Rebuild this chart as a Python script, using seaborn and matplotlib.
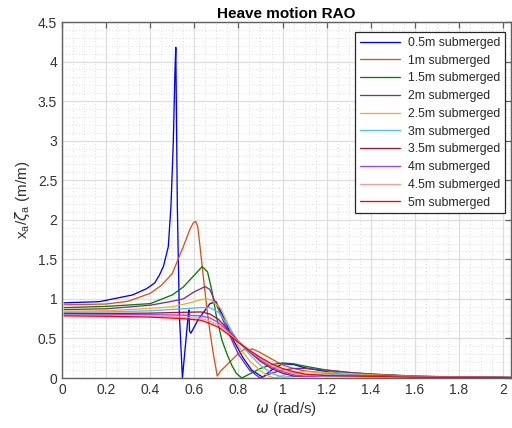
import numpy as np
import pandas as pd
import matplotlib
matplotlib.use("Agg")
import matplotlib.pyplot as plt
import seaborn as sns
from matplotlib.ticker import MultipleLocator

labels = ["0.5m submerged", "1m submerged", "1.5m submerged", "2m submerged",
          "2.5m submerged", "3m submerged", "3.5m submerged", "4m submerged",
          "4.5m submerged", "5m submerged"]
colors = ["#0000FF", "#D95319", "#008000", "#7E2F8E", "#EDB120",
          "#4DBEEE", "#A2142F", "#A040F0", "#FF9A9A", "#FF0000"]

x_ticks = [0, 0.2, 0.4, 0.6, 0.8, 1.0, 1.2, 1.4, 1.6, 1.8, 2.0]
x_ticklabels = ["0", "0.2", "0.4", "0.6", "0.8", "1", "1.2", "1.4", "1.6", "1.8", "2"]
y_ticks = [0, 0.5, 1.0, 1.5, 2.0, 2.5, 3.0, 3.5, 4.0, 4.5]
y_ticklabels = ["0", "0.5", "1", "1.5", "2", "2.5", "3", "3.5", "4", "4.5"]

w_05 = [0.01, 0.17, 0.32, 0.384, 0.42, 0.437, 0.44, 0.46, 0.482, 0.494, 0.505, 0.512,
        0.516, 0.523, 0.532, 0.546, 0.562, 0.573, 0.576, 0.578, 0.584, 0.62, 0.671,
        0.698, 0.724, 0.777, 0.82, 0.86, 0.91, 0.95, 1.0, 1.05, 1.1, 1.2, 1.3, 1.4,
        1.6, 1.8, 2.04]
v_05 = [0.95, 0.965, 1.05, 1.13, 1.2, 1.28, 1.29, 1.41, 1.66, 2.17, 3.0, 3.86,
        4.18, 2.17, 0.82, 0.0, 0.48, 0.82, 0.86, 0.6, 0.565, 0.75, 0.94,
        0.965, 0.82, 0.48, 0.26, 0.1, 0.01, 0.1, 0.18, 0.17, 0.13, 0.08, 0.05, 0.035,
        0.02, 0.012, 0.007]

w_10 = [0.01, 0.2, 0.3, 0.4, 0.45, 0.5, 0.55, 0.58, 0.595, 0.606, 0.615, 0.626, 0.64,
        0.656, 0.67, 0.686, 0.704, 0.72, 0.76, 0.80, 0.822, 0.84, 0.848, 0.86, 0.87,
        0.9, 0.95, 1.0, 1.05, 1.1, 1.2, 1.3, 1.4, 1.6, 1.8, 2.04]
v_10 = [0.925, 0.935, 0.97, 1.07, 1.17, 1.32, 1.66, 1.88, 1.96, 1.98, 1.92, 1.66, 1.3,
        0.9, 0.6, 0.31, 0.025, 0.09, 0.2, 0.31, 0.355, 0.37, 0.34, 0.37, 0.36,
        0.32, 0.24, 0.165, 0.12, 0.09, 0.06, 0.04, 0.03, 0.015, 0.01, 0.005]

w_15 = [0.01, 0.2, 0.4, 0.5, 0.55, 0.6, 0.636, 0.66, 0.68, 0.70, 0.725, 0.75, 0.77,
        0.79, 0.815, 0.85, 0.9, 0.95, 1.0, 1.05, 1.1, 1.2, 1.3, 1.4, 1.6, 1.8, 2.04]
v_15 = [0.89, 0.905, 0.94, 1.05, 1.15, 1.3, 1.41, 1.34, 1.1, 0.78, 0.48, 0.29, 0.16,
        0.06, 0.0, 0.05, 0.12, 0.17, 0.19, 0.18, 0.15, 0.1, 0.07, 0.05, 0.025, 0.012, 0.005]

w_20 = [0.01, 0.2, 0.4, 0.5, 0.55, 0.6, 0.649, 0.67, 0.7, 0.75, 0.8, 0.85, 0.898,
        0.95, 1.0, 1.05, 1.1, 1.2, 1.3, 1.4, 1.6, 2.04]
v_20 = [0.865, 0.875, 0.92, 0.97, 1.0, 1.09, 1.155, 1.12, 0.93, 0.6, 0.3, 0.1, 0.0,
        0.06, 0.1, 0.12, 0.12, 0.1, 0.07, 0.05, 0.02, 0.005]

w_25 = [0.01, 0.2, 0.4, 0.5, 0.58, 0.63, 0.655, 0.68, 0.72, 0.76, 0.8, 0.85, 0.9,
        0.94, 0.966, 1.0, 1.05, 1.1, 1.2, 1.4, 1.6, 2.04]
v_25 = [0.845, 0.85, 0.88, 0.9, 0.95, 0.99, 1.0, 0.98, 0.88, 0.64, 0.4, 0.22, 0.09,
        0.02, 0.0, 0.03, 0.07, 0.08, 0.07, 0.04, 0.02, 0.005]

w_band = [0.01, 0.2, 0.4, 0.55, 0.63, 0.67, 0.71, 0.75, 0.8, 0.85, 0.9, 0.95, 1.0,
          1.05, 1.1, 1.2, 1.4, 1.6, 2.04]
v_30 = [0.83, 0.835, 0.85, 0.875, 0.89, 0.89, 0.83, 0.68, 0.46, 0.3, 0.16, 0.06, 0.01,
        0.02, 0.04, 0.05, 0.03, 0.015, 0.005]
v_35 = [0.815, 0.815, 0.82, 0.83, 0.835, 0.81, 0.74, 0.62, 0.46, 0.33, 0.21, 0.12, 0.06,
        0.025, 0.02, 0.03, 0.03, 0.015, 0.005]
v_40 = [0.80, 0.80, 0.80, 0.795, 0.785, 0.76, 0.70, 0.60, 0.46, 0.34, 0.23, 0.14, 0.08,
        0.04, 0.02, 0.02, 0.025, 0.015, 0.005]
v_45 = [0.795, 0.79, 0.785, 0.77, 0.755, 0.72, 0.67, 0.58, 0.455, 0.35, 0.25, 0.16, 0.1,
        0.06, 0.04, 0.025, 0.02, 0.012, 0.005]
v_50 = [0.785, 0.78, 0.77, 0.75, 0.73, 0.69, 0.64, 0.56, 0.45, 0.35, 0.26, 0.18, 0.12,
        0.08, 0.05, 0.03, 0.02, 0.01, 0.005]

series = [(w_05, v_05), (w_10, v_10), (w_15, v_15), (w_20, v_20), (w_25, v_25),
          (w_band, v_30), (w_band, v_35), (w_band, v_40), (w_band, v_45), (w_band, v_50)]

frames = []
for lab, (w, v) in zip(labels, series):
    frames.append(pd.DataFrame({"omega": w, "rao": v, "case": lab}))
df = pd.concat(frames, ignore_index=True)

sns.set_theme(style="white")
plt.rcParams["font.family"] = ["Liberation Sans", "DejaVu Sans"]
plt.rcParams["mathtext.fontset"] = "dejavusans"

fig = plt.figure(figsize=(5.12, 4.28), dpi=100)
ax = fig.add_axes([62/512, 1 - 378/428, (511 - 62)/512, (378 - 22)/428])

sns.lineplot(data=df, x="omega", y="rao", hue="case", palette=dict(zip(labels, colors)),
             hue_order=labels, sort=False, estimator=None, units="case", lw=0.95, ax=ax)

ax.set_xlim(0, 2.036)
ax.set_ylim(0, 4.5)
ax.set_xticks(x_ticks)
ax.set_xticklabels(x_ticklabels)
ax.set_yticks(y_ticks)
ax.set_yticklabels(y_ticklabels)
ax.xaxis.set_minor_locator(MultipleLocator(0.05))
ax.yaxis.set_minor_locator(MultipleLocator(0.1))

ax.grid(True, which="major", color="#dedede", lw=0.9, ls="-")
ax.grid(True, which="minor", color="#cfcfcf", lw=0.6, ls=(0, (1, 3)))
ax.set_axisbelow(True)
ax.tick_params(which="both", direction="in", top=True, right=True, colors="#606060",
               labelsize=10, labelcolor="#333333")
ax.tick_params(which="major", length=4, width=0.9)
ax.tick_params(which="minor", length=0)
for s in ax.spines.values():
    s.set_color("#606060")
    s.set_linewidth(1.0)

ax.set_title("Heave motion RAO", fontsize=11, fontweight="bold", color="black", pad=3)
ax.set_xlabel(r"$\omega$ (rad/s)", fontsize=11, color="#333333", labelpad=2)
ax.set_ylabel(r"x$_{\mathregular{a}}$/$\zeta_{\mathregular{a}}$ (m/m)", fontsize=11,
              color="#333333", labelpad=4)

leg = ax.legend(loc="upper right", bbox_to_anchor=(505/512, 1 - 32/428),
                bbox_transform=fig.transFigure, borderaxespad=0, fontsize=8.8,
                frameon=True, fancybox=False, edgecolor="#262626", framealpha=1,
                handlelength=3.3, handletextpad=0.6, labelspacing=0.47, borderpad=0.4)
leg.get_frame().set_linewidth(0.9)

fig.savefig("out.png", dpi=100)
